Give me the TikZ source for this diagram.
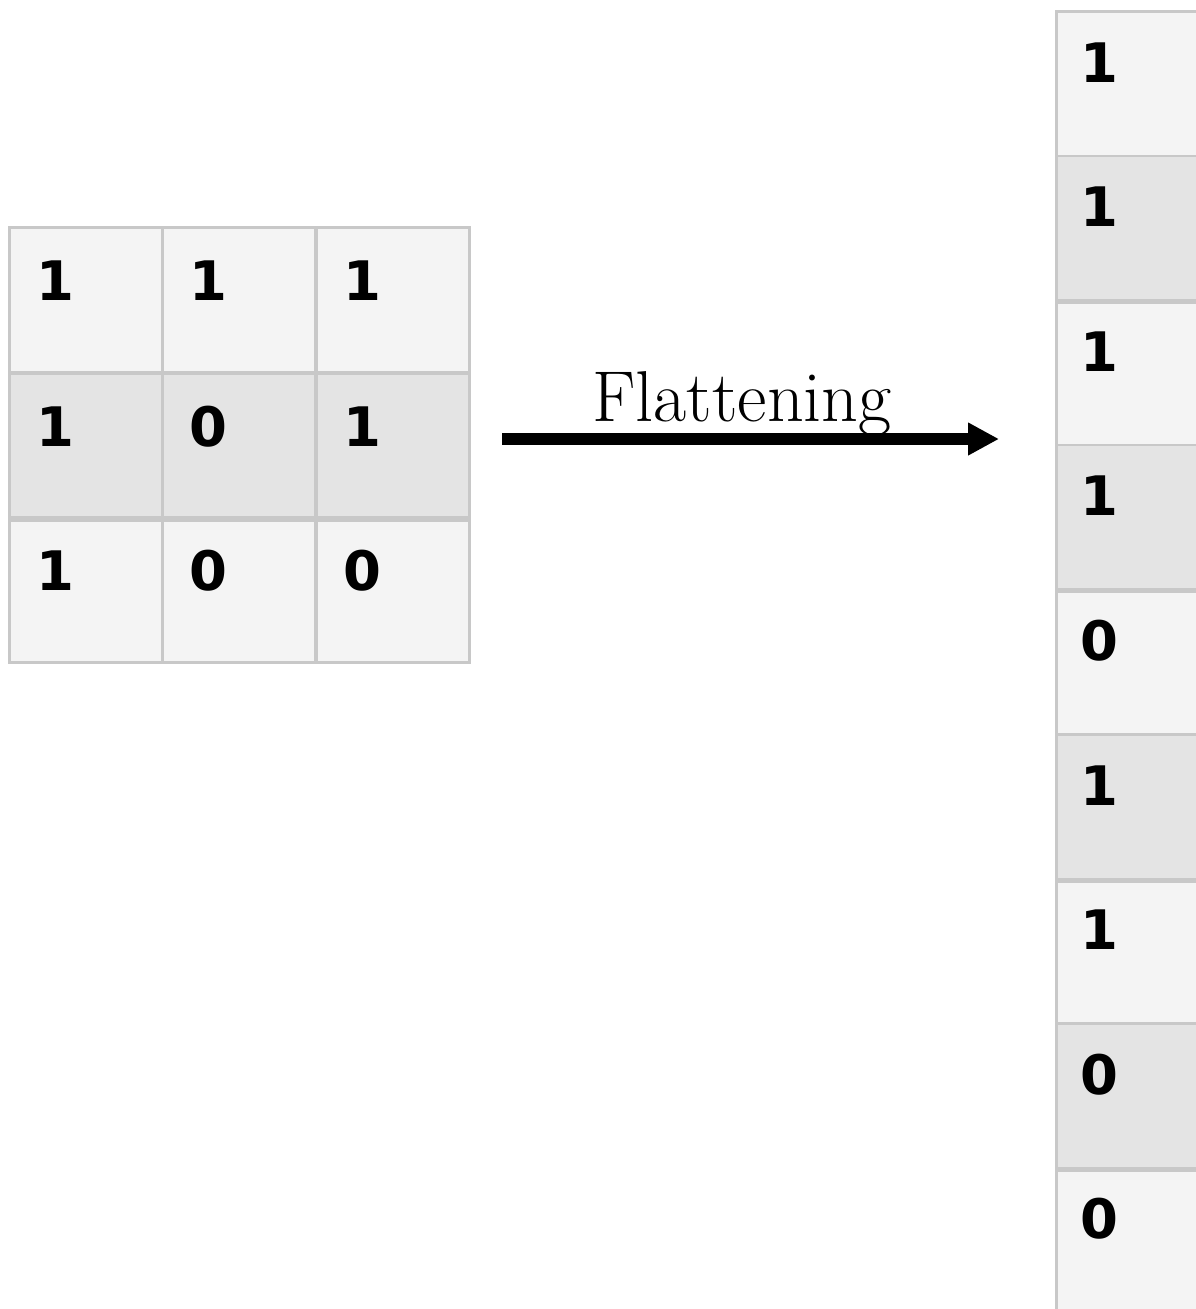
\documentclass[tikz,border=0pt]{standalone}
\usepackage{fontspec}
\newfontfamily\digfont{DejaVu Sans}
\usetikzlibrary{arrows.meta}
\definecolor{cellL}{HTML}{F4F4F4}
\definecolor{cellD}{HTML}{E4E4E4}
\definecolor{gridc}{HTML}{C8C8C8}
\tikzset{
  cellbox/.style={draw=gridc, line width=1.5pt, anchor=north west, inner sep=0pt,
    minimum width=3.07cm, minimum height=2.9cm, fill=cellL},
  colbox/.style={draw=gridc, line width=1.5pt, anchor=north west, inner sep=0pt,
    minimum width=3.2cm, minimum height=2.892cm, fill=cellL},
  shaded/.style={fill=cellD},
  digit/.style={anchor=base west, inner sep=0pt, font=\digfont\bfseries\fontsize{31}{31}\selectfont},
  sepline/.style={draw=gridc, line width=2.8pt},
  lbl/.style={anchor=base, inner sep=0pt, font=\fontsize{41}{41}\selectfont},
  flatarrow/.style={line width=6.3pt, -{Triangle[length=17.6pt,width=17.5pt]}}
}
\begin{document}
\begin{tikzpicture}[x=0.02cm,y=-0.02cm]
\useasboundingbox (0,0) rectangle (1196,1309);
% left 3x3 grid
\foreach \r/\ry in {1/226,2/372,3/516}{
  \foreach \c/\cx in {1/8,2/161,3/315}{
    \ifnum\r=2
      \node[cellbox,shaded] (g-\r-\c) at (\cx,\ry) {};
    \else
      \node[cellbox] (g-\r-\c) at (\cx,\ry) {};
    \fi
  }
}
\draw[sepline] (g-2-1.south west) -- (g-2-3.south east);
% digits in grid
\foreach \r/\ry in {1/226,2/372,3/516}{
  \foreach \c/\cx in {1/8,2/161,3/315}{
    \coordinate (gd-\r-\c) at (\cx+28,\ry+74);
  }
}
\node[digit] (t-1-1) at (gd-1-1) {1};
\node[digit] (t-1-2) at (gd-1-2) {1};
\node[digit] (t-1-3) at (gd-1-3) {1};
\node[digit] (t-2-1) at (gd-2-1) {1};
\node[digit] (t-2-2) at (gd-2-2) {0};
\node[digit] (t-2-3) at (gd-2-3) {1};
\node[digit] (t-3-1) at (gd-3-1) {1};
\node[digit] (t-3-2) at (gd-3-2) {0};
\node[digit] (t-3-3) at (gd-3-3) {0};
% right column
\foreach \i/\v in {1/1,2/1,3/1,4/1,5/0,6/1,7/1,8/0,9/0}{
  \pgfmathsetmacro{\ty}{10+144.6*(\i-1)}
  \ifodd\i
    \node[colbox] (v-\i) at (1055,\ty) {};
  \else
    \node[colbox,shaded] (v-\i) at (1055,\ty) {};
  \fi
  \node[digit] (vt-\i) at (1080,\ty+72) {\v};
}
\foreach \i in {2,4,6,8}{
  \draw[sepline] (v-\i.south west) -- ++(150,0);
}
% arrow and label
\coordinate (as) at (502,439);
\coordinate (ae) at (999,439);
\draw[flatarrow] (as) -- (ae);
\node[lbl] (flab) at (742,421) {Flattening};
\end{tikzpicture}
\end{document}
